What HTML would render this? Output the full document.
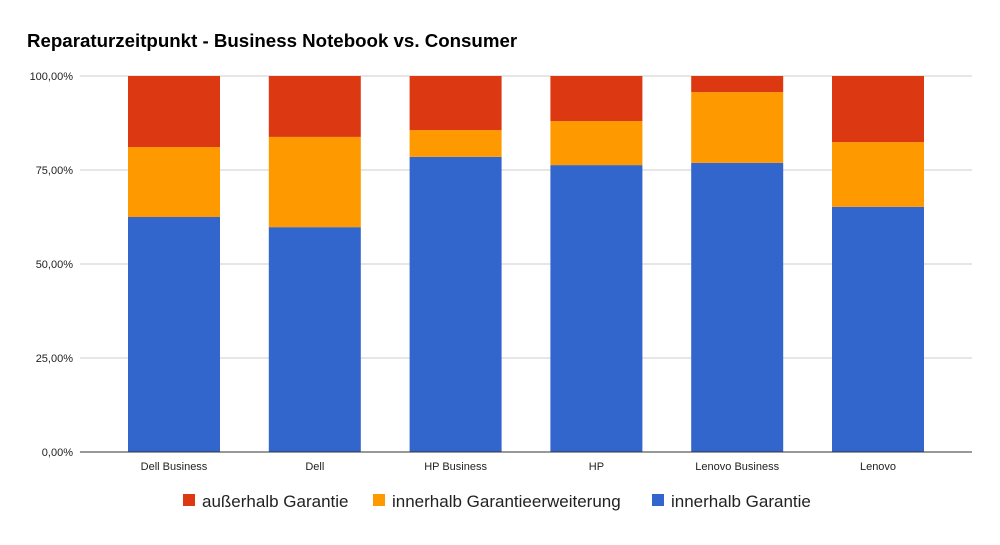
<!DOCTYPE html>
<html><head><meta charset="utf-8"><style>
body{margin:0;background:#fff;font-family:"Liberation Sans",Roboto,sans-serif}
svg text{font-family:"Liberation Sans",sans-serif}
</style></head><body>
<svg width="1000" height="540" viewBox="0 0 1000 540">
<rect width="1000" height="540" fill="#fff"/>
<text x="27" y="47" font-size="18.7" font-weight="bold" fill="#000">Reparaturzeitpunkt - Business Notebook vs. Consumer</text>
<g id="grid"></g><g id="bars"></g><g id="xl"></g>
<g>
<g><rect x="183" y="494" width="12" height="12" fill="#dc3912"/><text x="202" y="507" font-size="17" fill="#222">außerhalb Garantie</text></g>
<g><rect x="373" y="494" width="12" height="12" fill="#ff9900"/><text x="392" y="507" font-size="17" fill="#222">innerhalb Garantieerweiterung</text></g>
<g><rect x="652" y="494" width="12" height="12" fill="#3366cc"/><text x="671" y="507" font-size="17" fill="#222">innerhalb Garantie</text></g>
</g>
</svg>
<script>
const categories=["Dell Business","Dell","HP Business","HP","Lenovo Business","Lenovo"];
const garantie=[62.5,59.8,78.5,76.3,76.9,65.2];
const erweiterung=[18.6,24.0,7.1,11.7,18.8,17.2];
const ausserhalb=[18.9,16.2,14.4,12.0,4.3,17.6];
const yTicks=[0,25,50,75,100];
const yTickLabels=["0,00%","25,00%","50,00%","75,00%","100,00%"];
const NS="http://www.w3.org/2000/svg";
const y0=452,y1=76,x0=80,x1=972;
const y=v=>y0-(v/100)*(y0-y1);
const step=140.8,first=174,bw=92;
const xc=i=>first+i*step;
function mk(t,a,p){const e=document.createElementNS(NS,t);for(const k in a)e.setAttribute(k,a[k]);p.appendChild(e);return e;}
const g=document.getElementById('grid');
yTicks.forEach((v,i)=>{
 const l=mk('line',{x1:x0,x2:x1,y1:y(v),y2:y(v),stroke:v===0?'#333':'#ccc','stroke-width':1},g);
 
 
 const t=mk('text',{x:73,y:y(v)+4,'font-size':11,'text-anchor':'end',fill:'#222'},g);
 t.textContent=yTickLabels[i];
 
 
});
const b=document.getElementById('bars'),xl=document.getElementById('xl');
categories.forEach((c,i)=>{
 const segs=[[garantie[i],'#3366cc','garantie'],[erweiterung[i],'#ff9900','erweiterung'],[ausserhalb[i],'#dc3912','ausserhalb']];
 let acc=0;
 segs.forEach(s=>{
  const r=mk('rect',{x:xc(i)-bw/2,y:y(acc+s[0]),width:bw,height:y(acc)-y(acc+s[0]),fill:s[1]},b);
  
  
  acc+=s[0];
 });
 const t=mk('text',{x:xc(i),y:470,'font-size':11,'text-anchor':'middle',fill:'#222'},xl);
 t.textContent=c;
 
 
});
const ax=mk('line',{x1:x0,x2:x1,y1:y0,y2:y0,stroke:'#333'},xl);


</script>
</body></html>
